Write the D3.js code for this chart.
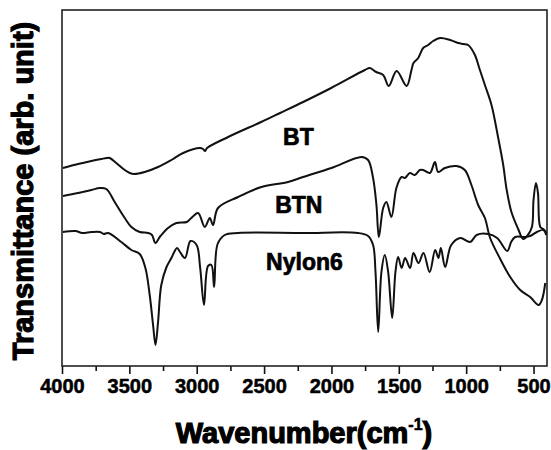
<!DOCTYPE html>
<html>
<head>
<meta charset="utf-8">
<script src="https://cdn.jsdelivr.net/npm/d3@7"></script>
<style>
  body { margin: 0; background: #fff; }
  text { font-family: "Liberation Sans", Arial, sans-serif; font-weight: bold; fill: #000; }
</style>
</head>
<body>
<div id="container"></div>
<script>
const w = 551;
const h = 450;
const p = {top: 10, right: 4, bottom: 84, left: 62};

// [wavenumber (cm-1), transmittance (arb. unit)]
const bt = [
  [3993, 198], [3881, 202], [3782, 205], [3708, 207], [3668, 208], [3646, 208],
  [3597, 203], [3534, 196], [3497, 193], [3465, 192], [3386, 194], [3287, 199],
  [3188, 206], [3101, 213], [2975, 218], [2953, 217], [2938, 215], [2923, 218],
  [2767, 229], [2522, 244], [2381, 253], [2210, 264], [2002, 278], [1752, 296],
  [1715, 298], [1668, 294], [1616, 291], [1575, 280], [1516, 295], [1442, 280],
  [1406, 296], [1391, 303], [1356, 308], [1319, 318], [1282, 321], [1245, 325],
  [1193, 328], [1119, 326], [1059, 323], [1022, 322], [985, 321], [935, 311],
  [903, 298], [861, 281], [812, 261], [762, 228], [725, 201], [699, 176],
  [664, 154], [614, 137], [577, 127], [547, 130], [512, 139], [500, 166],
  [482, 183], [467, 173], [450, 139], [428, 137], [404, 133]
];
const btn = [
  [3993, 170], [3881, 173], [3782, 176], [3720, 178], [3671, 177], [3609, 164],
  [3534, 148], [3485, 139], [3423, 134], [3361, 133], [3332, 131], [3307, 123],
  [3274, 129], [3213, 138], [3151, 143], [3074, 144], [3040, 148], [2990, 153],
  [2940, 139], [2903, 148], [2879, 141], [2842, 158], [2693, 169], [2520, 179],
  [2322, 184], [2210, 189], [2000, 198], [1777, 209], [1728, 206], [1691, 188],
  [1666, 161], [1648, 129], [1616, 158], [1592, 164], [1555, 149], [1518, 178],
  [1480, 189], [1455, 188], [1418, 193], [1381, 191], [1344, 196], [1319, 196],
  [1269, 193], [1232, 204], [1208, 194], [1158, 198], [1072, 200], [1010, 196],
  [961, 181], [911, 161], [861, 148], [822, 128], [747, 107], [673, 89],
  [599, 76], [525, 69], [463, 61], [438, 66], [413, 83]
];
const nylon6 = [
  [3993, 134], [3900, 135], [3850, 133], [3782, 134], [3718, 134], [3690, 132],
  [3658, 133], [3560, 124], [3485, 116], [3423, 112], [3381, 98], [3349, 71],
  [3324, 41], [3306, 21], [3287, 44], [3263, 81], [3224, 99], [3188, 108],
  [3146, 118], [3124, 114], [3087, 108], [3046, 125], [3001, 121], [2975, 99],
  [2946, 61], [2916, 100], [2891, 101], [2871, 79], [2845, 122], [2792, 131],
  [2693, 133], [2210, 133], [1802, 133], [1728, 130], [1691, 121], [1673, 94],
  [1653, 34], [1629, 94], [1604, 111], [1579, 94], [1549, 48], [1525, 94],
  [1505, 109], [1479, 98], [1453, 108], [1416, 98], [1391, 113], [1354, 103],
  [1317, 113], [1271, 94], [1230, 116], [1206, 108], [1188, 118], [1156, 99],
  [1111, 121], [1044, 128], [970, 124], [922, 131], [837, 132], [770, 128],
  [695, 115], [666, 124], [636, 129], [569, 129], [525, 130], [475, 134],
  [426, 136], [406, 131]
];
const seriesLabels = [
  {name: 'BT', wave: 2359, value: 221},
  {name: 'BTN', wave: 2418, value: 153},
  {name: 'Nylon6', wave: 2485, value: 96}
];
const majorTicks = [4000, 3500, 3000, 2500, 2000, 1500, 1000, 500];
const minorTicks = [3750, 3250, 2750, 2250, 1750, 1250, 750];

const svg = d3.select('#container')
  .append('svg')
  .attr('width', w)
  .attr('height', h);

const x = d3.scaleLinear()
  .domain([4000, 400])
  .range([p.left, w - p.right]);
const y = d3.scaleLinear()
  .domain([0, 356])
  .range([h - p.bottom, p.top]);

// minor ticks first, then labelled major ticks
svg.append('g')
  .attr('transform', 'translate(0,' + (h - p.bottom) + ')')
  .call(d3.axisBottom(x).tickValues(minorTicks).tickSize(5).tickFormat(''))
  .call(g => g.select('.domain').remove())
  .call(g => g.selectAll('line').attr('stroke', '#111').attr('stroke-width', 1.6));

svg.append('g')
  .attr('transform', 'translate(0,' + (h - p.bottom) + ')')
  .call(d3.axisBottom(x).tickValues(majorTicks).tickSize(8).tickPadding(5).tickFormat(d3.format('d')))
  .call(g => g.select('.domain').remove())
  .call(g => g.selectAll('line').attr('stroke', '#111').attr('stroke-width', 1.6))
  .call(g => g.selectAll('text')
    .attr('font-size', 20)
    .attr('font-family', '"Liberation Sans", Arial, sans-serif')
    .attr('font-weight', 'bold')
    .attr('stroke', '#000')
    .attr('stroke-width', 0.5)
    .attr('fill', '#000'));

// frame
svg.append('rect')
  .attr('x', p.left)
  .attr('y', p.top)
  .attr('width', w - p.left - p.right)
  .attr('height', h - p.top - p.bottom)
  .attr('fill', 'none')
  .attr('stroke', '#222')
  .attr('stroke-width', 1.6);

const line = d3.line()
  .x(d => x(d[0]))
  .y(d => y(d[1]))
  .curve(d3.curveCatmullRom.alpha(0.5));

svg.selectAll('path.spec')
  .data([bt, btn, nylon6])
  .enter()
  .append('path')
  .attr('class', 'spec')
  .attr('d', line)
  .attr('fill', 'none')
  .attr('stroke', '#111')
  .attr('stroke-width', 2)
  .attr('stroke-linejoin', 'round');

svg.selectAll('text.lbl')
  .data(seriesLabels)
  .enter()
  .append('text')
  .attr('class', 'lbl')
  .attr('x', d => x(d.wave))
  .attr('y', d => y(d.value))
  .attr('font-size', 23)
  .attr('stroke', '#000')
  .attr('stroke-width', 0.7)
  .text(d => d.name);

// axis titles
const xt = svg.append('text')
  .attr('x', 304)
  .attr('y', 443)
  .attr('text-anchor', 'middle')
  .attr('font-size', 29)
  .attr('stroke', '#000')
  .attr('stroke-width', 1.2);
xt.append('tspan').text('Wavenumber(cm');
xt.append('tspan').attr('font-size', 16).attr('dy', -13).attr('stroke-width', 0.6).text('-1');
xt.append('tspan').attr('dy', 13).text(')');

svg.append('text')
  .attr('transform', 'translate(33,' + 191 + ') rotate(-90)')
  .attr('text-anchor', 'middle')
  .attr('font-size', 29)
  .attr('stroke', '#000')
  .attr('stroke-width', 1.2)
  .text('Transmittance (arb. unit)');
</script>
</body>
</html>
